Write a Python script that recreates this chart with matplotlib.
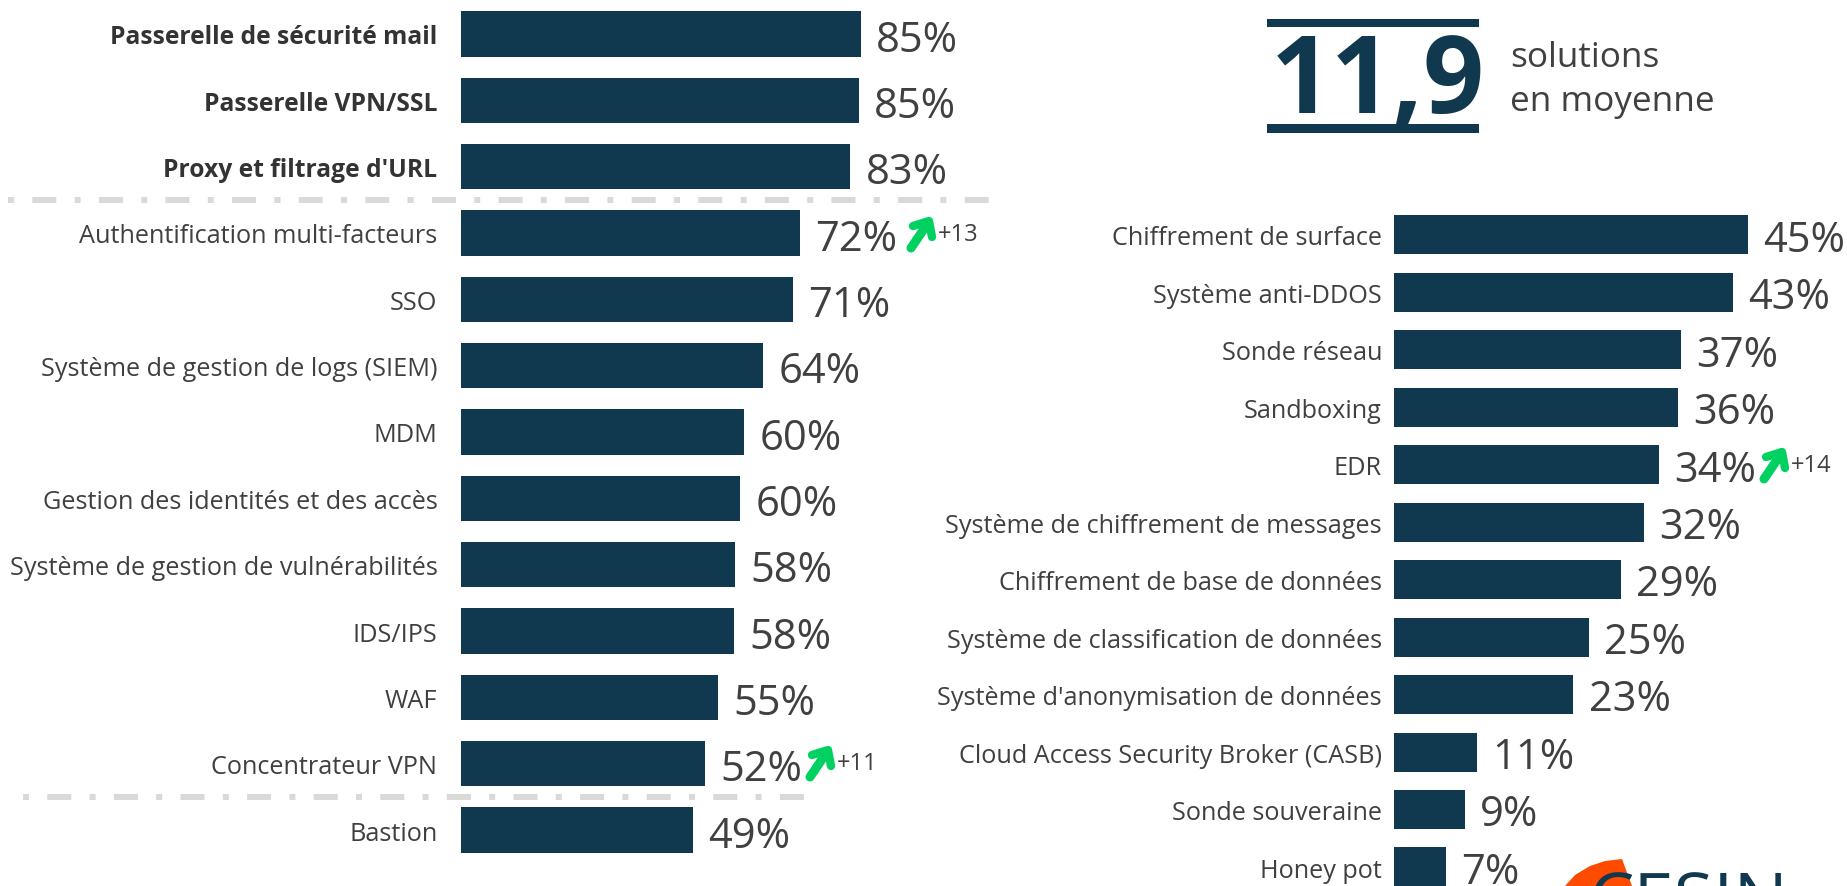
import matplotlib
matplotlib.use('Agg')
import matplotlib.pyplot as plt
from matplotlib.patches import Polygon

plt.rcParams['font.family'] = ['Open Sans', 'DejaVu Sans']

W, H = 1847, 887
NAVY = '#10384e'
GREY = '#404040'
GREEN = '#00d160'

left_labels = ['Passerelle de sécurité mail', 'Passerelle VPN/SSL', "Proxy et filtrage d'URL",
               'Authentification multi-facteurs', 'SSO', 'Système de gestion de logs (SIEM)',
               'MDM', 'Gestion des identités et des accès', 'Système de gestion de vulnérabilités',
               'IDS/IPS', 'WAF', 'Concentrateur VPN', 'Bastion']
left_values = [85.1, 84.7, 82.8, 72.2, 70.7, 64.3, 60.2, 59.4, 58.4, 58.0, 54.6, 52.0, 49.4]
left_text = ['85%', '85%', '83%', '72%', '71%', '64%', '60%', '60%', '58%', '58%', '55%', '52%', '49%']

right_labels = ['Chiffrement de surface', 'Système anti-DDOS', 'Sonde réseau', 'Sandboxing', 'EDR',
                'Système de chiffrement de messages', 'Chiffrement de base de données',
                'Système de classification de données', "Système d'anonymisation de données",
                'Cloud Access Security Broker (CASB)', 'Sonde souveraine', 'Honey pot']
right_values = [45.0, 43.1, 36.5, 36.1, 33.7, 31.8, 28.8, 24.8, 22.8, 10.6, 9.0, 6.6]
right_text = ['45%', '43%', '37%', '36%', '34%', '32%', '29%', '25%', '23%', '11%', '9%', '7%']


def axes_px(fig, x0, x1, top, bottom):
    return fig.add_axes([x0 / W, 1 - bottom / H, (x1 - x0) / W, (bottom - top) / H])


def draw_bars(ax, labels, values, texts, height, pad, text_dy, n_bold=0):
    y = list(range(len(labels)))
    ax.barh(y, values, height=height, color=NAVY)
    ax.set_yticks(y)
    ax.set_yticklabels(labels, fontsize=18.2, color=GREY)
    for lab in ax.get_yticklabels()[:n_bold]:
        lab.set_fontweight('bold')
        lab.set_fontsize(17.7)
        lab.set_color('#333333')
    ax.tick_params(axis='y', length=0, pad=pad)
    ax.set_xticks([])
    for s in ax.spines.values():
        s.set_visible(False)
    for i, (v, t) in enumerate(zip(values, texts)):
        ax.annotate(t, (v, i), xytext=(11, text_dy), textcoords='offset points',
                    va='center', ha='left', fontsize=30, color=GREY)


def draw_delta(over, x, y, txt):
    # green arrow, x/y = foot of the shaft in figure pixels
    over.plot([x, x + 17], [y, y - 25], color=GREEN, lw=6.5, solid_capstyle='round')
    over.plot([x + 2, x + 18, x + 21], [y - 22, y - 27, y - 11], color=GREEN, lw=6,
              solid_capstyle='round', solid_joinstyle='round')
    over.text(x + 27, y - 14, txt, fontsize=17, color=GREY, va='center', ha='left')


fig = plt.figure(figsize=(W / 100, H / 100), dpi=100, facecolor='white')

ax_left = axes_px(fig, 461, 931, 1.8, 864.2)
ax_left.set_xlim(0, 100)
ax_left.set_ylim(12.5, -0.5)
draw_bars(ax_left, left_labels, left_values, left_text, 0.68, 17, -4, n_bold=3)

ax_right = axes_px(fig, 1394, 1847, 207, 887)
ax_right.set_xlim(0, 453 / 7.87)
ax_right.set_ylim(11.33, -0.5)
draw_bars(ax_right, right_labels, right_values, right_text, 0.68, 8.6, -3.5)

# overlay in pixel coordinates for separators, arrows and the key figure
over = fig.add_axes([0, 0, 1, 1], zorder=5)
over.set_xlim(0, W)
over.set_ylim(H, 0)
over.axis('off')

sep_dash = (1, 3.05, 4, 3.05)
over.plot([8, 991], [200.5, 200.5], color='#d9d9d9', lw=4.32, dashes=sep_dash)
over.plot([23, 809], [798, 798], color='#d9d9d9', lw=4.32, dashes=sep_dash)

draw_delta(over, 911, 249, '+13')
draw_delta(over, 810, 778, '+11')
draw_delta(over, 1764, 480, '+14')

# 11,9 block
over.fill_between([1267, 1479], 20, 28, color=NAVY, lw=0)
over.fill_between([1267, 1479], 125, 134, color=NAVY, lw=0)
over.text(1378, 113, '11,9', fontsize=77, fontweight='bold', color=NAVY,
          ha='center', va='baseline')
over.text(1510, 58, 'solutions', fontsize=25.3, color=GREY, va='center', ha='left')
over.text(1510, 102, 'en moyenne', fontsize=25.3, color=GREY, va='center', ha='left')

# logo, cut by the bottom edge of the image
over.add_patch(Polygon([(1565, 887), (1575, 876), (1590, 867), (1605, 862), (1622, 860), (1632, 887)],
                       closed=True, color='#ff4b00', lw=0))
over.text(1689, 925, 'CESIN', fontsize=52, color=NAVY, ha='center', va='baseline')

fig.savefig('out.png', dpi=100)
